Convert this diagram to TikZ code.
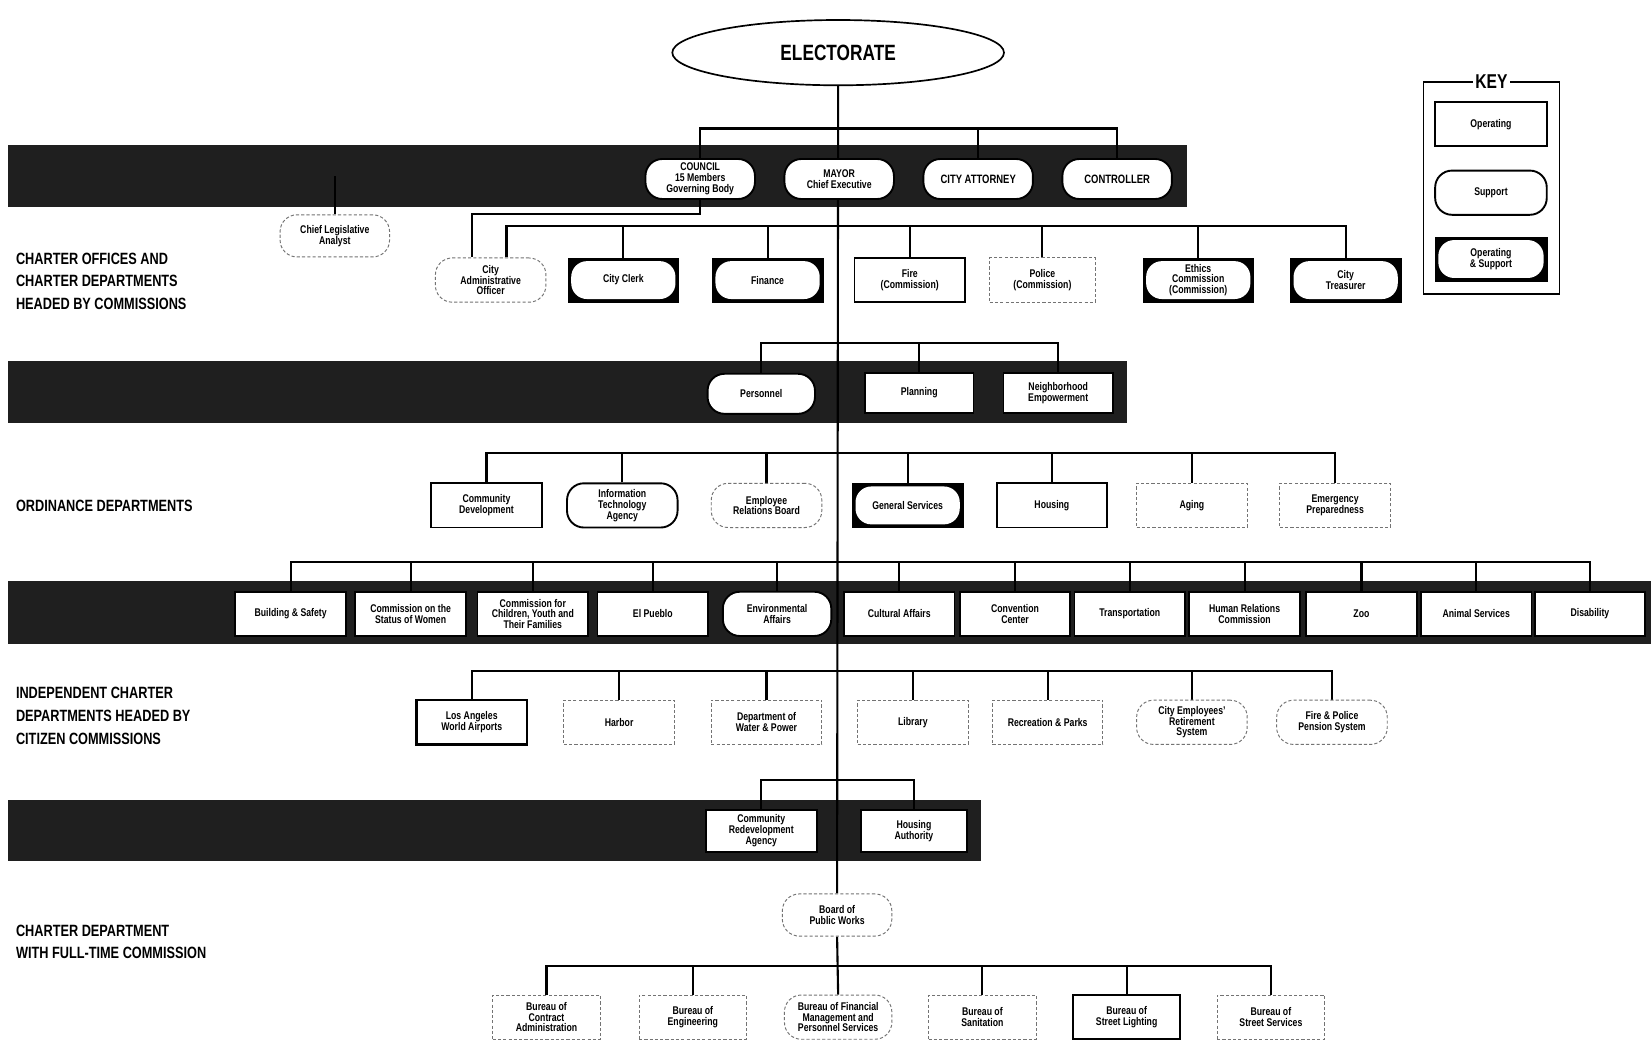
\documentclass[tikz,border=0pt]{standalone}
\usepackage{fontspec}
\setmainfont{Liberation Sans}[FakeStretch=0.78]
\usetikzlibrary{shapes.geometric}
\pgfdeclarelayer{bands}
\pgfdeclarelayer{links}
\pgfsetlayers{bands,links,main}
\tikzset{
  base/.style={rectangle, fill=white, minimum width=105pt, minimum height=42pt, align=center, inner sep=1pt, font=\bfseries\fontsize{10.6}{10.2}\selectfont},
  opbox/.style={base, draw=black, line width=1.8pt},
  supbox/.style={opbox, rounded corners=16pt},
  dbox/.style={base, draw=black!55, line width=0.9pt, dash pattern=on 3pt off 2pt},
  dsup/.style={dbox, rounded corners=16pt},
  osbox/.style={base, fill=black, draw=black, line width=0.5pt,
    path picture={\fill[white, rounded corners=15pt] ([shift={(3pt,-3pt)}]path picture bounding box.north west) rectangle ([shift={(-3pt,3pt)}]path picture bounding box.south east);}},
  band/.style={fill=black!88, draw=none, inner sep=0pt},
  link/.style={draw=black, line width=2pt},
  seclabel/.style={anchor=west, align=left, inner sep=0pt, font=\bfseries\fontsize{15.5}{21.5}\selectfont},
}
\begin{document}
\begin{tikzpicture}[x=1pt,y=-1pt]
\useasboundingbox (0,0) rectangle (1568,988);
\begin{pgfonlayer}{bands}
\fill[white] (0,0) rectangle (1568,988);
\node[band, minimum width=1119pt, minimum height=59pt] (band1) at (567.5,167.5) {};
\node[band, minimum width=1062pt, minimum height=59pt] (band2) at (539,372.5) {};
\node[band, minimum width=1560pt, minimum height=60pt] (band3) at (788,582) {};
\node[band, minimum width=924pt, minimum height=58pt] (band4) at (470,789) {};
\end{pgfonlayer}

% level coordinates
\coordinate (L1) at (0,122);
\coordinate (L2c) at (0,203);
\coordinate (L2) at (0,215);
\coordinate (L3) at (0,326);
\coordinate (L4) at (0,430);
\coordinate (L5) at (0,534);
\coordinate (L6) at (0,637);
\coordinate (L7) at (0,741);
\coordinate (L8) at (0,917);

% electorate
\node[ellipse, draw, line width=1.6pt, fill=white, minimum width=315pt, minimum height=62pt, font=\bfseries\fontsize{21}{21}\selectfont] (elect) at (796,50) {ELECTORATE};

% key
\node[draw, line width=1.6pt, minimum width=129pt, minimum height=201pt, inner sep=0pt] (keyframe) at (1416.5,178.5) {};
\node[fill=white, inner sep=2pt, font=\bfseries\fontsize{19}{19}\selectfont] (keytitle) at (keyframe.north) {KEY};
\node[opbox, minimum width=106pt] (keyop) at (1416,118) {Operating};
\node[supbox, minimum width=106pt] (keysup) at (1416,183) {Support};
\node[osbox, minimum width=106pt] (keyos) at (1416,246) {Operating\\\& Support};

% section labels
\node[seclabel] (sec1) at (15,267) {CHARTER OFFICES AND\\CHARTER DEPARTMENTS\\HEADED BY COMMISSIONS};
\node[seclabel] (sec2) at (15,480) {ORDINANCE DEPARTMENTS};
\node[seclabel] (sec3) at (15,680) {INDEPENDENT CHARTER\\DEPARTMENTS HEADED BY\\CITIZEN COMMISSIONS};
\node[seclabel] (sec4) at (15,894.5) {CHARTER DEPARTMENT\\WITH FULL-TIME COMMISSION};

% elected officials
\node[supbox, minimum width=104pt, minimum height=38pt] (council) at (665,170) {COUNCIL\\15 Members\\Governing Body};
\node[supbox, minimum width=104pt, minimum height=38pt] (mayor) at (797,170) {MAYOR\\Chief Executive};
\node[supbox, minimum width=104pt, minimum height=38pt, font=\bfseries\fontsize{11.5}{11.5}\selectfont] (attorney) at (929,170) {CITY ATTORNEY};
\node[supbox, minimum width=104pt, minimum height=38pt, font=\bfseries\fontsize{11.5}{11.5}\selectfont] (controller) at (1061,170) {CONTROLLER};

\node[dsup, minimum width=104pt, minimum height=40pt] (cla) at (318,224) {Chief Legislative\\Analyst};

% charter offices row
\node[dsup] (cao) at (466,266) {City\\Administrative\\Officer};
\node[osbox] (clerk) at (592,266) {City Clerk};
\node[osbox] (finance) at (729,266) {Finance};
\node[opbox] (fire) at (864,266) {Fire\\(Commission)};
\node[dbox, minimum width=100pt] (police) at (990,266) {Police\\(Commission)};
\node[osbox] (ethics) at (1138,266) {Ethics\\Commission\\(Commission)};
\node[osbox] (treasurer) at (1278,266) {City\\Treasurer};
\coordinate (caoL) at ([xshift=-18pt]cao.north);
\coordinate (caoR) at ([xshift=15pt]cao.north);

% band 2
\node[supbox, minimum width=102pt, minimum height=38pt] (personnel) at (723,374) {Personnel};
\node[opbox, minimum width=103pt, minimum height=38pt] (planning) at (873,373) {Planning};
\node[opbox, minimum width=104pt, minimum height=38pt] (neigh) at (1005,373) {Neighborhood\\Empowerment};

% ordinance departments
\node[opbox] (commdev) at (462,480) {Community\\Development};
\node[supbox] (ita) at (591,480) {Information\\Technology\\Agency};
\node[dsup] (erb) at (728,480) {Employee\\Relations Board};
\node[osbox] (gensvc) at (862,480) {General Services};
\node[opbox] (housing) at (999,480) {Housing};
\node[dbox] (aging) at (1132,480) {Aging};
\node[dbox] (emerg) at (1268,480) {Emergency\\Preparedness};

% band 3
\begin{scope}[every node/.append style={minimum width=96pt, minimum height=44pt}]
\node[opbox] (bsafety) at (276,583) {Building \& Safety};
\node[opbox] (csw) at (390,583) {Commission on the\\Status of Women};
\node[opbox] (ccytf) at (506,583) {Commission for\\Children, Youth and\\Their Families};
\node[opbox] (elpueblo) at (620,583) {El Pueblo};
\node[supbox, minimum width=103pt] (envaff) at (738,583) {Environmental\\Affairs};
\node[opbox] (cultural) at (854,583) {Cultural Affairs};
\node[opbox] (convention) at (964,583) {Convention\\Center};
\node[opbox] (transport) at (1073,583) {Transportation};
\node[opbox] (hrc) at (1182,583) {Human Relations\\Commission};
\node[opbox] (zoo) at (1293,583) {Zoo};
\node[opbox] (animal) at (1402,583) {Animal Services};
\node[opbox] (disability) at (1510,583) {Disability};
\end{scope}

% independent charter departments
\node[opbox, line width=2.2pt] (lawa) at (448,686) {Los Angeles\\World Airports};
\node[dbox] (harbor) at (588,686) {Harbor};
\node[dbox] (dwp) at (728,686) {Department of\\Water \& Power};
\node[dbox] (library) at (867,686) {Library};
\node[dbox] (recpark) at (995,686) {Recreation \& Parks};
\node[dsup] (cers) at (1132,686) {City Employees'\\Retirement\\System};
\node[dsup] (fpps) at (1265,686) {Fire \& Police\\Pension System};

% band 4
\node[opbox, minimum height=40pt] (cra) at (723,789) {Community\\Redevelopment\\Agency};
\node[opbox, minimum width=100pt, minimum height=40pt] (hauth) at (868,789) {Housing\\Authority};

% public works
\node[dsup, minimum width=104pt, minimum height=40pt] (bpw) at (795,869) {Board of\\Public Works};
\node[dbox, minimum width=102pt] (bca) at (519,966) {Bureau of\\Contract\\Administration};
\node[dbox, minimum width=102pt] (beng) at (658,966) {Bureau of\\Engineering};
\node[dsup, minimum width=102pt] (bfm) at (796,966) {Bureau of Financial\\Management and\\Personnel Services};
\node[dbox, minimum width=102pt] (bsan) at (933,966) {Bureau of\\Sanitation};
\node[opbox, minimum width=102pt] (bsl) at (1070,966) {Bureau of\\Street Lighting};
\node[dbox, minimum width=102pt] (bss) at (1207,966) {Bureau of\\Street Services};

% connectors
\begin{pgfonlayer}{links}
\draw[link] (elect.south) -- (bpw.north);
\draw[link] (bpw.south) -- (bfm.north);
% elected
\draw[link] (council.north) -- (council.north |- L1) -- (controller.north |- L1) -- (controller.north);
\draw[link] (attorney.north) -- (attorney.north |- L1);
\draw[link] (cla.north) -- (cla.north |- band1.center);
\draw[link] (council.south) -- (council.south |- L2c) -- (caoL |- L2c) -- (caoL);
% charter offices
\draw[link] (caoR) -- (caoR |- L2) -- (treasurer.north |- L2) -- (treasurer.north);
\foreach \n in {clerk,finance,fire,police,ethics} \draw[link] (\n.north) -- (\n.north |- L2);
% band 2
\draw[link] (personnel.north) -- (personnel.north |- L3) -- (neigh.north |- L3) -- (neigh.north);
\draw[link] (planning.north) -- (planning.north |- L3);
% ordinance
\draw[link] (commdev.north) -- (commdev.north |- L4) -- (emerg.north |- L4) -- (emerg.north);
\foreach \n in {ita,erb,gensvc,housing,aging} \draw[link] (\n.north) -- (\n.north |- L4);
% band 3
\draw[link] (bsafety.north) -- (bsafety.north |- L5) -- (disability.north |- L5) -- (disability.north);
\foreach \n in {csw,ccytf,elpueblo,envaff,cultural,convention,transport,hrc,zoo,animal} \draw[link] (\n.north) -- (\n.north |- L5);
% independent
\draw[link] (lawa.north) -- (lawa.north |- L6) -- (fpps.north |- L6) -- (fpps.north);
\foreach \n in {harbor,dwp,library,recpark,cers} \draw[link] (\n.north) -- (\n.north |- L6);
% band 4
\draw[link] (cra.north) -- (cra.north |- L7) -- (hauth.north |- L7) -- (hauth.north);
% bureaus
\draw[link] (bca.north) -- (bca.north |- L8) -- (bss.north |- L8) -- (bss.north);
\foreach \n in {beng,bsan,bsl} \draw[link] (\n.north) -- (\n.north |- L8);
\end{pgfonlayer}
\end{tikzpicture}
\end{document}
